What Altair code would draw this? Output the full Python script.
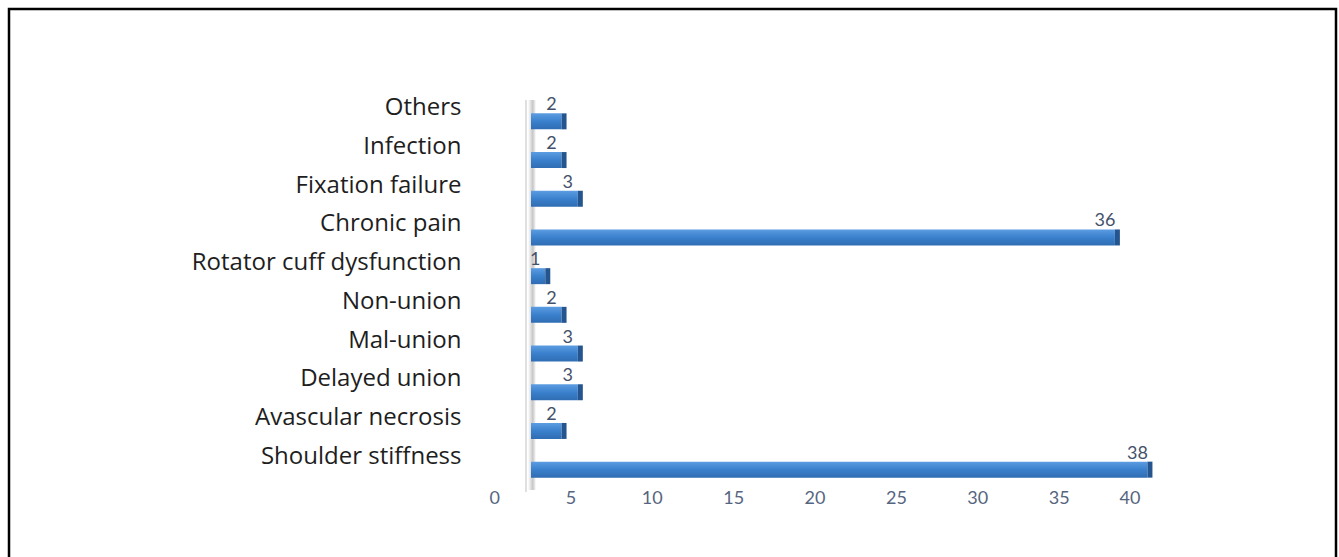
import altair as alt
import pandas as pd

categories = ["Others", "Infection", "Fixation failure", "Chronic pain",
              "Rotator cuff dysfunction", "Non-union", "Mal-union",
              "Delayed union", "Avascular necrosis", "Shoulder stiffness"]
values = [2, 2, 3, 36, 1, 2, 3, 3, 2, 38]
x_ticks = [0, 5, 10, 15, 20, 25, 30, 35, 40]

df = pd.DataFrame({"category": categories, "value": values})

FONT = "Lato"
CAT_FONT = "Open Sans"

y_enc = alt.Y("category:N", sort=categories,
              scale=alt.Scale(paddingInner=0, paddingOuter=0),
              axis=alt.Axis(title=None, domain=False, ticks=False,
                            labelFontSize=24, labelColor="#1e1e1e",
                            labelFont=CAT_FONT, labelOffset=-13, labelPadding=28,
                            labelLimit=400))
x_scale = alt.Scale(domain=[0, 40], nice=False, zero=True)
x_axis = alt.Axis(title=None, values=x_ticks, grid=False, domain=False,
                  ticks=False, labelFontSize=18, labelColor="#56657f",
                  labelFont=FONT, labelPadding=0)

base = alt.Chart(df)

bars = base.transform_calculate(zero="0").mark_bar(
    size=16, xOffset=42, x2Offset=40, cornerRadius=0,
    color=alt.Gradient(gradient="linear",
                       stops=[alt.GradientStop(color="#5c9de2", offset=0),
                              alt.GradientStop(color="#3a80cc", offset=0.5),
                              alt.GradientStop(color="#2f6db3", offset=1)],
                       x1=0, x2=0, y1=0, y2=1)
).encode(
    y=y_enc,
    x=alt.X("zero:Q", scale=x_scale, axis=x_axis),
    x2="value:Q",
)

sides = base.mark_bar(size=16, xOffset=40, x2Offset=45, color="#24558f").encode(
    y=alt.Y("category:N", sort=categories),
    x=alt.X("value:Q", scale=x_scale),
    x2="value:Q",
)

labels = base.mark_text(xOffset=30, dy=-16, fontSize=18, font=FONT,
                        color="#44516a").encode(
    y=alt.Y("category:N", sort=categories),
    x=alt.X("value:Q", scale=x_scale),
    text="value:Q",
)

one = alt.Chart(pd.DataFrame({"a": [0]}))

wall_line = one.mark_rule(color="#e0e0e0", strokeWidth=2).encode(
    x=alt.value(37), y=alt.value(-2), y2=alt.value(390))

wall_shadow = one.mark_rect(
    color=alt.Gradient(gradient="linear",
                       stops=[alt.GradientStop(color="#ffffff", offset=0),
                              alt.GradientStop(color="#b8b8b8", offset=0.6),
                              alt.GradientStop(color="#ffffff", offset=1)],
                       x1=0, x2=1, y1=0, y2=0),
    opacity=0.8
).encode(x=alt.value(39), x2=alt.value(47), y=alt.value(-2), y2=alt.value(388))

border = one.mark_rect(fill=None, stroke="#000000", strokeWidth=2.5).encode(
    x=alt.value(-480), x2=alt.value(847), y=alt.value(-93), y2=alt.value(470))

chart = alt.layer(border, wall_line, wall_shadow, bars, sides, labels).properties(
    width=651, height=387,
    padding={"left": 489, "top": 102, "right": 199, "bottom": 68},
    autosize="none",
    background="white",
).configure_view(stroke=None)

chart.save("out.html", embed_options={"renderer": "svg", "actions": False})
